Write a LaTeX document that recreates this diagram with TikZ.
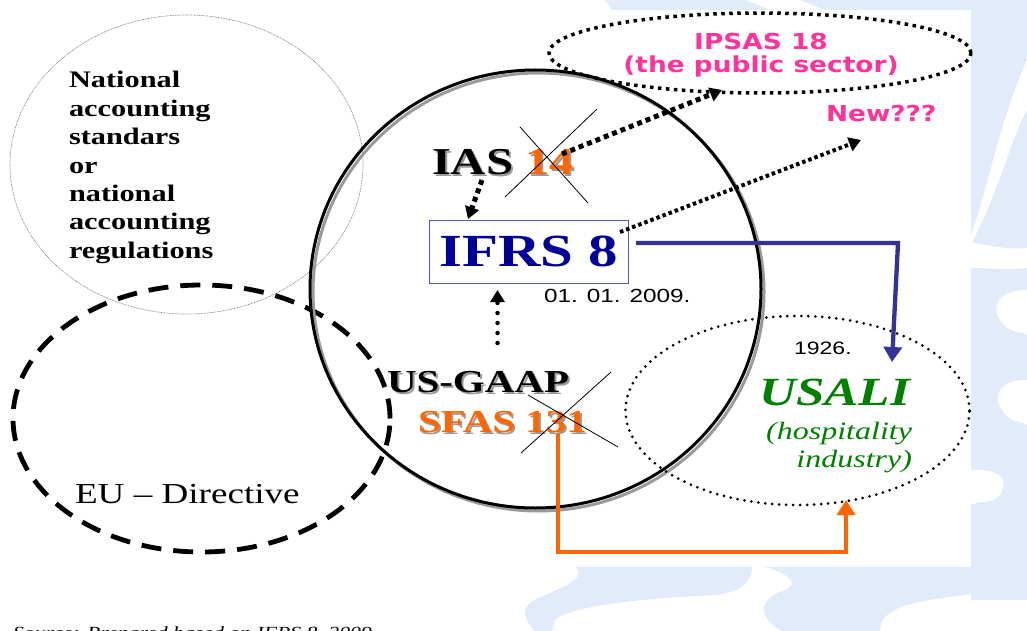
\documentclass[tikz,border=0pt]{standalone}
\usepackage{fontspec}
\setmainfont{Liberation Serif}[FakeStretch=1.28]
\newfontfamily\vsans{DejaVu Sans}[FakeStretch=1.2]
\newfontfamily\asans{Liberation Sans}[FakeStretch=1.28]
\usetikzlibrary{shapes.geometric,arrows.meta}
\definecolor{bgblue}{HTML}{E1EBFA}
\definecolor{ipink}{HTML}{FF3399}
\definecolor{iorange}{HTML}{FF6600}
\definecolor{inavy}{HTML}{000099}
\definecolor{iblue}{HTML}{333399}
\definecolor{boxblue}{HTML}{5555BB}
\definecolor{igreen}{HTML}{008000}
\definecolor{shgray}{HTML}{9A9A9A}
\newcommand{\shtxt}[2]{\leavevmode\rlap{\kern2pt\raisebox{-2pt}{\color{shgray}#2}}{\color{#1}#2}}
\begin{document}
\begin{tikzpicture}[x=1pt,y=-1pt,
  lbl/.style={inner sep=0pt,outer sep=0pt},
  oval/.style={ellipse,inner sep=0pt,outer sep=0pt},
  sqdot/.style={line width=5pt,dash pattern=on 5pt off 4pt},
  tipb/.style={-{Triangle[length=12pt,width=14pt]}},
  crossln/.style={line width=0.8pt}]
\useasboundingbox (0,0) rectangle (1027,631);
% background
\fill[bgblue] (971,0) rectangle (1027,600);
\fill[bgblue] (605,0) -- (745,0) -- (770,10) -- (612,10) -- cycle;
\fill[bgblue] (800,0) -- (1027,0) -- (1027,10) -- (825,10) -- cycle;
\fill[white] (1027,60) .. controls (1000,120) and (990,180) .. (971,236) -- (971,244) .. controls (1000,190) and (1010,140) .. (1027,110) -- cycle;
\fill[white] (971,242) .. controls (990,246) and (1010,250) .. (1027,248) -- (1027,268) .. controls (1005,270) and (990,268) .. (971,268) -- cycle;
\fill[white] (1027,290) .. controls (1000,290) and (990,305) .. (1000,320) .. controls (1010,335) and (1020,330) .. (1027,335) -- cycle;
\fill[white] (1027,380) .. controls (1000,380) and (992,395) .. (1002,410) .. controls (1012,425) and (1020,420) .. (1027,425) -- cycle;
\fill[white] (971,470) .. controls (1000,468) and (1010,480) .. (1000,495) .. controls (990,505) and (980,500) .. (971,505) -- cycle;
\fill[bgblue] (575,567) -- (752,567) .. controls (752,585) and (735,593) .. (715,595) .. controls (650,598) and (570,605) .. (555,620) -- (552,631) -- (535,631) .. controls (520,615) and (520,605) .. (545,595) .. controls (575,583) and (585,575) .. cycle;
\fill[bgblue] (765,567) -- (1010,567) .. controls (1010,585) and (1000,590) .. (950,597) .. controls (900,603) and (880,612) .. (880,631) -- (782,631) .. controls (760,620) and (755,600) .. (785,590) .. controls (805,580) and (775,570) .. cycle;

% ovals
\node[oval,draw=gray,line width=0.7pt,dash pattern=on 0.8pt off 0.8pt,minimum width=353pt,minimum height=299pt] (natl) at (186.5,164.5) {};
\node[oval,draw,line width=4.8pt,dash pattern=on 20pt off 12pt,minimum width=377pt,minimum height=267pt] (eu) at (201.5,418.5) {};
\node[oval,draw=shgray,line width=3pt,minimum width=451pt,minimum height=438pt] (bigsh) at (538.5,292) {};
\node[oval,draw,line width=3pt,minimum width=451pt,minimum height=438pt] (big) at (535.5,289) {};
\node[oval,draw,line width=3.5pt,dash pattern=on 3.5pt off 4.5pt,minimum width=422pt,minimum height=80pt] (ipsas) at (760,53) {};
\node[oval,draw,line width=3pt,line cap=round,dash pattern=on 0pt off 7pt,minimum width=344pt,minimum height=189pt] (usali) at (797.5,410.5) {};

% texts
\node[lbl,anchor=north west,align=left,font=\bfseries\fontsize{23.7}{28.4}\selectfont] (natltxt) at (69,71.5) {National\\accounting\\standars\\or\\national\\accounting\\regulations};
\node[lbl,anchor=base west,font=\fontsize{29}{29}\selectfont] (eutxt) at (75,503) {EU -- Directive};
\node[lbl,anchor=base west,font=\bfseries\fontsize{38}{38}\selectfont] (ias) at (432,175) {\shtxt{black}{IAS} \shtxt{iorange}{14}};
\node[lbl,draw=boxblue,line width=1pt,minimum width=199pt,minimum height=63pt,font=\bfseries\fontsize{46}{46}\selectfont,text=inavy] (ifrs) at (528.5,251.5) {IFRS 8};
\node[lbl,anchor=base west,font=\asans\fontsize{19}{19}\selectfont] (date) at (544,302) {01. 01. 2009.};
\node[lbl,anchor=base west,font=\bfseries\fontsize{32}{32}\selectfont] (usgaap) at (387,392) {\shtxt{black}{US-GAAP}};
\node[lbl,anchor=base west,font=\bfseries\fontsize{32}{32}\selectfont] (sfas) at (418,432) {\shtxt{iorange}{SFAS 131}};
\node[lbl,anchor=base west,font=\asans\fontsize{18}{18}\selectfont] (y1926) at (794,354) {1926.};
\node[lbl,anchor=base east,font=\bfseries\itshape\fontsize{40}{40}\selectfont,text=igreen] (usalit) at (910,405) {USALI};
\node[lbl,anchor=base east,font=\itshape\fontsize{25}{25}\selectfont,text=igreen] (hosp) at (912,439) {(hospitality};
\node[lbl,anchor=base east,font=\itshape\fontsize{25}{25}\selectfont,text=igreen] (indus) at (912,467) {industry)};
\node[lbl,anchor=base,font=\vsans\bfseries\fontsize{22}{22}\selectfont,text=ipink] (ipsas1) at (761,50) {IPSAS 18};
\node[lbl,anchor=base,font=\vsans\bfseries\fontsize{22}{22}\selectfont,text=ipink] (ipsas2) at (761,73) {(the public sector)};
\node[lbl,anchor=base west,font=\vsans\bfseries\fontsize{22}{22}\selectfont,text=ipink] (new) at (826,122) {New???};
\node[lbl,anchor=base west,font=\itshape\fontsize{17}{17}\selectfont] (src) at (13,638) {Source: Prepared based on IFRS 8, 2009};

% crosses
\draw[crossln] (520,127) -- (588,203);
\draw[crossln] (597,109) -- (505,197);
\draw[crossln] (528,395) -- (618,447);
\draw[crossln] (611,372) -- (521,453);

% connectors
\coordinate (iasout) at (482,180);
\coordinate (ifrsin) at (468,219);
\coordinate (c14) at (562,154);
\coordinate (ipsasin) at (722,90);
\coordinate (ifrsne) at (620,232);
\coordinate (newin) at (861,140);
\coordinate (gaapup) at (497.5,343);
\coordinate (ifrsbot) at (497.5,290);
\draw[sqdot,tipb] (iasout) -- (ifrsin);
\draw[sqdot,tipb] (c14) -- (ipsasin);
\draw[line width=4pt,dash pattern=on 3.5pt off 3pt,tipb] (ifrsne) -- (newin);
\draw[line width=4.5pt,line cap=round,dash pattern=on 0pt off 10pt,-{Triangle[length=12pt,width=14pt]}] (gaapup) -- (ifrsbot);
\coordinate (ifrsr) at (636,243);
\coordinate (bcorner) at (898,243);
\coordinate (usalitop) at (892,362);
\draw[iblue,line width=4.3pt,-{Triangle[length=15pt,width=18pt]}] (ifrsr) -- (bcorner) -- (usalitop);
\coordinate (sfasb) at (558,434);
\coordinate (oc1) at (558,552);
\coordinate (oc2) at (846,552);
\coordinate (usalibot) at (846,500);
\draw[iorange,line width=4.5pt,-{Triangle[length=15pt,width=18pt]}] (sfasb) -- (oc1) -- (oc2) -- (usalibot);
\end{tikzpicture}
\end{document}
